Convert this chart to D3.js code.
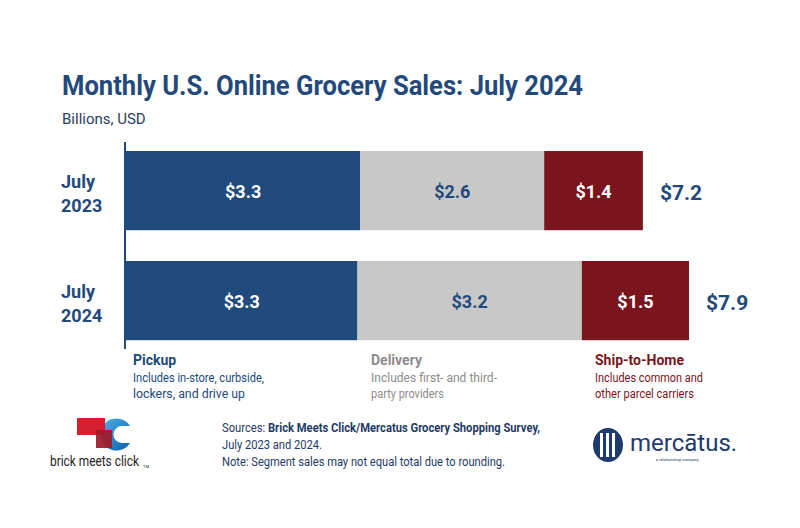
<!DOCTYPE html>
<html><head><meta charset="utf-8">
<script src="https://cdn.jsdelivr.net/npm/d3@7"></script>
<style>body{margin:0;background:#fff;} svg{display:block;font-family:Roboto,"Noto Sans",sans-serif;}</style>
</head><body><svg id="c" width="800" height="528"></svg>
<script>
// ---- data ----
const categories = ["July 2023", "July 2024"];
const segments = ["Pickup", "Delivery", "Ship-to-Home"];
const pickup = [3.30, 3.26];
const delivery = [2.59, 3.16];
const shipToHome = [1.39, 1.51];
const totals = [7.2, 7.9];
const segmentNotes = [
  ["Includes in-store, curbside,", "lockers, and drive up"],
  ["Includes first- and third-", "party providers"],
  ["Includes common and", "other parcel carriers"]
];

const colors = {"Pickup": "#214a7c", "Delivery": "#c8c8c8", "Ship-to-Home": "#7a151d"};
const textColors = {"Pickup": "#214a7c", "Delivery": "#8c8c8c", "Ship-to-Home": "#7a151d"};
const labelColors = {"Pickup": "#ffffff", "Delivery": "#214a7c", "Ship-to-Home": "#ffffff"};
const navy = "#23497c";

const svg = d3.select("#c");

// fit a text element to a target width
function fit(sel, w) {
  const n = sel.node();
  if (n.getComputedTextLength() > w) sel.attr("textLength", w).attr("lengthAdjust", "spacingAndGlyphs");
  return sel;
}

// title
fit(svg.append("text").attr("x", 62).attr("y", 95).attr("fill", navy)
  .attr("font-size", 27).attr("font-weight", 700)
  .text("Monthly U.S. Online Grocery Sales: July 2024"), 521);
svg.append("text").attr("x", 62).attr("y", 124).attr("fill", "#2b3f5e")
  .attr("font-size", 15).text("Billions, USD");

// table
const rows = categories.map((c, i) => ({cat: c, "Pickup": pickup[i], "Delivery": delivery[i], "Ship-to-Home": shipToHome[i]}));
const stack = d3.stack().keys(segments)(rows);

const x = d3.scaleLinear().domain([0, 9]).range([126, 126 + 639]);
const y = d3.scaleBand().domain(categories).range([135.6, 355.6]).paddingInner(0.28).paddingOuter(0.14);

const g = svg.append("g");
stack.forEach(layer => {
  const key = layer.key;
  g.selectAll(null).data(layer).join("rect")
    .attr("x", d => x(d[0])).attr("width", d => x(d[1]) - x(d[0]))
    .attr("y", d => y(d.data.cat)).attr("height", y.bandwidth())
    .attr("fill", colors[key]);
  g.selectAll(null).data(layer).join("text")
    .attr("x", d => (x(d[0]) + x(d[1])) / 2)
    .attr("y", d => y(d.data.cat) + y.bandwidth() / 2 + 7)
    .attr("text-anchor", "middle").attr("font-size", 18).attr("font-weight", 700)
    .attr("fill", labelColors[key])
    .text(d => "$" + (d[1] - d[0]).toFixed(1));
});

// axis line
svg.append("line").attr("x1", 125).attr("x2", 125).attr("y1", 142).attr("y2", 349)
  .attr("stroke", "#214a7c").attr("stroke-width", 2);

// category labels
categories.forEach(c => {
  const parts = c.split(" ");
  const cy = y(c) + y.bandwidth() / 2;
  const t = svg.append("text").attr("x", 61).attr("y", cy - 3).attr("fill", navy)
    .attr("font-size", 18).attr("font-weight", 700);
  t.append("tspan").attr("x", 61).text(parts[0]);
  t.append("tspan").attr("x", 61).attr("dy", 24).text(parts[1]);
});

// totals
const last = stack[stack.length - 1];
last.forEach((d, i) => {
  svg.append("text").attr("x", x(d[1]) + 17).attr("y", y(d.data.cat) + y.bandwidth() / 2 + 9)
    .attr("fill", navy).attr("font-size", 21).attr("font-weight", 700)
    .text("$" + totals[i].toFixed(1));
});

// legend
const legendX = [133, 371, 595];
const noteWidths = [[131, 112], [126, 73], [108, 99]];
segments.forEach((s, i) => {
  svg.append("text").attr("x", legendX[i]).attr("y", 365).attr("fill", textColors[s])
    .attr("font-size", 14).attr("font-weight", 700).text(s);
  segmentNotes[i].forEach((n, j) => {
    fit(svg.append("text").attr("x", legendX[i]).attr("y", 382 + j * 16).attr("fill", textColors[s])
      .attr("font-size", 12.5).text(n), noteWidths[i][j]);
  });
});

// sources
const src = svg.append("text").attr("x", 222).attr("y", 432).attr("fill", "#1f3a66").attr("font-size", 12);
src.append("tspan").text("Sources: ");
src.append("tspan").attr("font-weight", 700).text("Brick Meets Click/Mercatus Grocery Shopping Survey,");
fit(src, 318);
fit(svg.append("text").attr("x", 222).attr("y", 449).attr("fill", "#1f3a66").attr("font-size", 12).text("July 2023 and 2024."), 100);
fit(svg.append("text").attr("x", 222).attr("y", 466).attr("fill", "#1f3a66").attr("font-size", 12).text("Note: Segment sales may not equal total due to rounding."), 283);

// brick meets click logo
const defs = svg.append("defs");
const gr = defs.append("linearGradient").attr("id", "bg").attr("x1", 0).attr("x2", 1).attr("y1", 0).attr("y2", 1);
gr.append("stop").attr("offset", 0).attr("stop-color", "#4fb3ea");
gr.append("stop").attr("offset", 1).attr("stop-color", "#0d5fa8");
const bl = svg.append("g");
bl.append("path").attr("d", "M130,426 A16,16 0 1 0 130,443 L122,443 A8,8 0 1 1 122,426 Z")
  .attr("fill", "url(#bg)");
bl.append("rect").attr("x", 77).attr("y", 418).attr("width", 28).attr("height", 17).attr("fill", "#d4202f");
bl.append("rect").attr("x", 96).attr("y", 430).attr("width", 16).attr("height", 18).attr("fill", "#9e1a28").attr("opacity", 0.92);
const bmcG = bl.append("g");
const bmc = bmcG.append("text").attr("x", 0).attr("y", 0).attr("font-size", 15).attr("fill", "#222").text("brick meets click");
const bmcW = bmc.node().getComputedTextLength();
bmcG.attr("transform", `translate(50,466) scale(${Math.min(1, 89 / bmcW)},1)`);
bl.append("text").attr("x", 143).attr("y", 468).attr("font-size", 4).attr("fill", "#222").text("TM");

// mercatus logo
const ml = svg.append("g");
ml.append("ellipse").attr("cx", 608).attr("cy", 445).attr("rx", 15).attr("ry", 17).attr("fill", "#1e3a6e");
[600, 606, 612].forEach(xx => ml.append("rect").attr("x", xx).attr("y", 433).attr("width", 3).attr("height", 24).attr("fill", "#fff"));
ml.append("text").attr("x", 630).attr("y", 451).attr("font-size", 24).attr("fill", "#1e3a6e").text("mercātus.");
ml.append("text").attr("x", 656).attr("y", 461).attr("font-size", 4).attr("fill", "#1e3a6e").text("a relationshop company");
</script></body></html>
